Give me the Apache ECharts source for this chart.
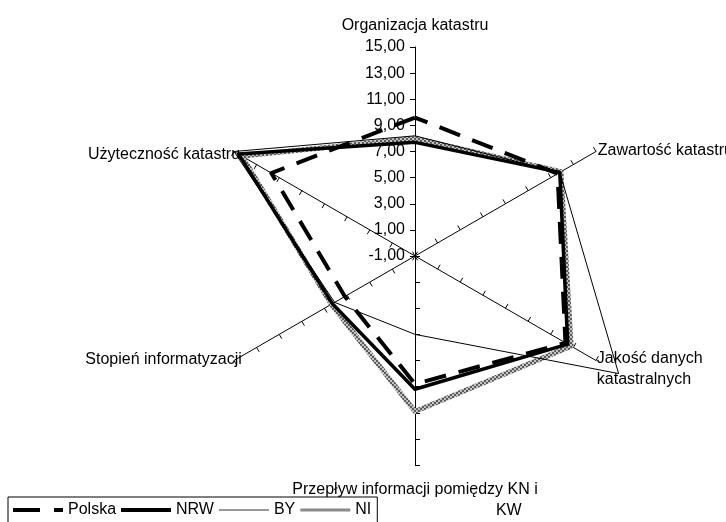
<!DOCTYPE html>
<html>
<head>
<meta charset="utf-8">
<script src="https://cdn.jsdelivr.net/npm/echarts@6/dist/echarts.min.js"></script>
<style>
  html, body { margin: 0; padding: 0; background: #fff; }
  #chart { width: 726px; height: 522px; }
</style>
</head>
<body>
<div id="chart"></div>
<script>
// kategorie w kolejnosci jak w oryginale (zgodnie z ruchem wskazowek zegara)
var categories = ['Organizacja katastru', 'Zawartość katastru', 'Jakość danych\nkatastralnych',
  'Przepływ informacji pomiędzy KN i\n{kw|KW}', 'Stopień informatyzacji', 'Użyteczność katastru'];
var seriesNames = ['Polska', 'NRW', 'BY', 'NI'];
var polska = [9.6, 11.6, 12.3, 8.8, 5.2, 11.7];
var nrw = [7.7, 11.8, 12.5, 9.2, 6.3, 14.6];
var by = [8.2, 11.8, 17.0, 5.0, 6.1, 15.0];
var ni = [8.0, 11.9, 12.8, 10.9, 6.4, 14.3];
var axisMin = -1, axisMax = 15, axisSplit = 8;

// echarts rysuje wskazniki przeciwnie do ruchu wskazowek - przestawiamy
var order = [0, 5, 4, 3, 2, 1];
function reorder(arr) {
  return order.map(function (i) { return arr[i]; });
}
// odstep nazwy od konca osi i przesuniecie w pionie (w kolejnosci categories)
var nameGaps = [11, 2, 1, 14, -9, -7];
var nameShift = [0, 0, 16, 0, 8, 0];

// wzor kratki dla serii NI
var pat = document.createElement('canvas');
pat.width = 4; pat.height = 4;
var pctx = pat.getContext('2d');
pctx.fillStyle = '#c4c4c4';
pctx.fillRect(0, 0, 4, 4);
pctx.fillStyle = '#5a5a5a';
pctx.fillRect(0, 0, 2, 2);
pctx.fillRect(2, 2, 2, 2);

var font = 'Liberation Sans, Arial, sans-serif';

var gapsOrdered = reorder(nameGaps);
var shiftOrdered = reorder(nameShift);
var indicators = reorder(categories).map(function (name, idx) {
  var ind = {
    name: name, min: axisMin, max: axisMax, nameGap: gapsOrdered[idx],
    nameTextStyle: { padding: [shiftOrdered[idx], 0, 0, 0] }
  };
  if (idx !== 0) {
    ind.axisLabel = { show: false };
  }
  return ind;
});

var myChart = echarts.init(document.getElementById('chart'));
var option = {
  backgroundColor: '#fff',
  animation: false,
  legend: {
    left: 8,
    top: 497,
    orient: 'horizontal',
    padding: [5, 6, 8, 5],
    itemGap: 5,
    itemWidth: 50,
    itemHeight: 4,
    borderColor: '#000',
    borderWidth: 1,
    borderRadius: 0,
    textStyle: { color: '#000', fontSize: 16, fontFamily: font },
    data: [
      { name: 'Polska', icon: 'path://M0,0h27v4h-27zM41,0h9v4h-9z', itemStyle: { color: '#000' } },
      { name: 'NRW', icon: 'path://M0,0h50v4h-50z', itemStyle: { color: '#000' } },
      { name: 'BY', icon: 'path://M0,0h50v1h-50z', itemStyle: { color: '#333' } },
      { name: 'NI', icon: 'path://M0,0h50v3h-50z', itemStyle: { color: '#8a8a8a' } }
    ]
  },
  radar: {
    center: [415, 256],
    radius: 209,
    startAngle: 90,
    shape: 'polygon',
    splitNumber: axisSplit,
    indicator: indicators,
    axisName: {
      color: '#000',
      fontSize: 16,
      fontFamily: font,
      lineHeight: 21,
      rich: {
        kw: { align: 'right', fontSize: 16, fontFamily: font, color: '#000', padding: [0, 16, 0, 0] }
      }
    },
    axisLine: { lineStyle: { color: '#000', width: 1 } },
    axisTick: { show: true, length: 5, lineStyle: { color: '#000', width: 1 } },
    axisLabel: {
      show: true,
      color: '#000',
      fontSize: 16,
      fontFamily: font,
      margin: 10,
      formatter: function (v) { return v.toFixed(2).replace('.', ','); }
    },
    splitLine: { show: false },
    splitArea: { show: false }
  },
  series: [{
    type: 'radar',
    symbol: 'none',
    data: [
      { name: 'NI', value: reorder(ni), lineStyle: { color: { image: pat, repeat: 'repeat' }, width: 5 } },
      { name: 'BY', value: reorder(by), lineStyle: { color: '#000', width: 1 } },
      { name: 'NRW', value: reorder(nrw), lineStyle: { color: '#000', width: 3.5 } },
      { name: 'Polska', value: reorder(polska), lineStyle: { color: '#000', width: 4, type: [22, 13] } }
    ]
  }]
};
myChart.setOption(option);
</script>
</body>
</html>
